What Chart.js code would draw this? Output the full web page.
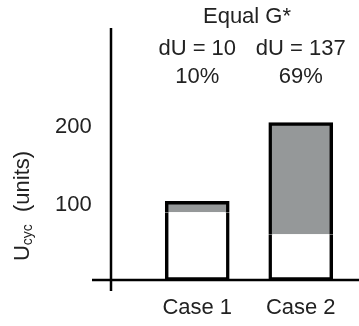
<!DOCTYPE html>
<html>
<head>
<meta charset="utf-8">
<script src="https://cdn.jsdelivr.net/npm/chart.js@4/dist/chart.umd.min.js"></script>
<style>
  html, body { margin: 0; padding: 0; background: #fff; }
  #wrap { width: 359px; height: 326px; }
</style>
</head>
<body>
<div id="wrap"><canvas id="c"></canvas></div>
<script>
// chart data
var caseLabels = ["Case 1", "Case 2"];
var baseValues = [86, 58];      // white part
var deltaValues = [14, 142];    // grey part (dU)
var dULabels = ["dU = 10", "dU = 137"];
var pctLabels = ["10%", "69%"];
var yTickValues = [100, 200];
var headerText = "Equal G*";

var FONT = "'Liberation Sans', Arial, sans-serif";
var TEXT = "#222";
var FSIZE = 22;

// axis lines, annotations and the y title with its subscript
var decorations = {
    id: "decorations",
    afterDraw: function (chart) {
        var ctx = chart.ctx;
        var area = chart.chartArea;
        var xs = chart.scales.x;
        var axisX = area.left - 34.5;

        ctx.save();
        ctx.strokeStyle = "#000";
        ctx.lineWidth = 2.5;
        ctx.beginPath();
        ctx.moveTo(axisX, area.top);
        ctx.lineTo(axisX, area.bottom + 11);
        ctx.moveTo(axisX - 19, area.bottom);
        ctx.lineTo(chart.width, area.bottom);
        ctx.stroke();

        ctx.fillStyle = TEXT;
        ctx.font = FSIZE + "px " + FONT;
        ctx.textAlign = "center";
        ctx.textBaseline = "middle";
        var p1 = xs.getPixelForValue(0);
        var p2 = xs.getPixelForValue(caseLabels.length - 1);
        ctx.fillText(headerText, (p1 + p2) / 2 - 2, 17);
        for (var i = 0; i < caseLabels.length; i++) {
            var px = xs.getPixelForValue(i);
            ctx.fillText(dULabels[i], px, 49);
            ctx.fillText(pctLabels[i], px, 77);
        }

        // rotated y title: U_cyc  (units)
        var big = FSIZE + "px " + FONT, small = "14px " + FONT;
        ctx.font = big;
        var wU = ctx.measureText("U").width;
        var wRest = ctx.measureText("  (units)").width;
        ctx.font = small;
        var wSub = ctx.measureText("cyc").width;
        var total = wU + wSub + wRest;
        ctx.translate(23, 206);
        ctx.rotate(-Math.PI / 2);
        ctx.textAlign = "left";
        var x0 = -total / 2;
        ctx.font = big;
        ctx.fillText("U", x0, 0);
        ctx.font = small;
        ctx.fillText("cyc", x0 + wU, 5);
        ctx.font = big;
        ctx.fillText("  (units)", x0 + wU + wSub, 0);
        ctx.restore();
    }
};

new Chart(document.getElementById("c"), {
    type: "bar",
    data: {
        labels: caseLabels,
        datasets: [
            {
                data: baseValues,
                backgroundColor: "#ffffff",
                borderColor: "#000",
                borderWidth: {top: 0, left: 3.5, right: 3.5, bottom: 3},
                borderSkipped: false
            },
            {
                data: deltaValues,
                backgroundColor: "#959899",
                borderColor: "#000",
                borderWidth: {top: 3.5, left: 3.5, right: 3.5, bottom: 0},
                borderSkipped: false
            }
        ]
    },
    options: {
        responsive: true,
        maintainAspectRatio: false,
        animation: false,
        barThickness: 64,
        layout: {padding: {top: 28, left: 55, right: 6.5, bottom: 0}},
        plugins: {legend: {display: false}, tooltip: {enabled: false}, title: {display: false}},
        scales: {
            x: {
                stacked: true,
                grid: {display: false, drawTicks: false},
                border: {display: false},
                afterFit: function (scale) { scale.height = 46; },
                ticks: {
                    autoSkip: false,
                    maxRotation: 0,
                    padding: 15,
                    color: TEXT,
                    font: {family: FONT, size: FSIZE}
                }
            },
            y: {
                stacked: true,
                min: 0,
                max: 320,
                grid: {display: false, drawTicks: false},
                border: {display: false},
                afterBuildTicks: function (scale) {
                    scale.ticks = yTickValues.map(function (v) { return {value: v}; });
                },
                afterFit: function (scale) { scale.width = 90.5; },
                ticks: {
                    padding: 0,
                    crossAlign: "far",
                    labelOffset: 4,
                    color: TEXT,
                    font: {family: FONT, size: FSIZE}
                }
            }
        }
    },
    plugins: [decorations]
});
</script>
</body>
</html>
